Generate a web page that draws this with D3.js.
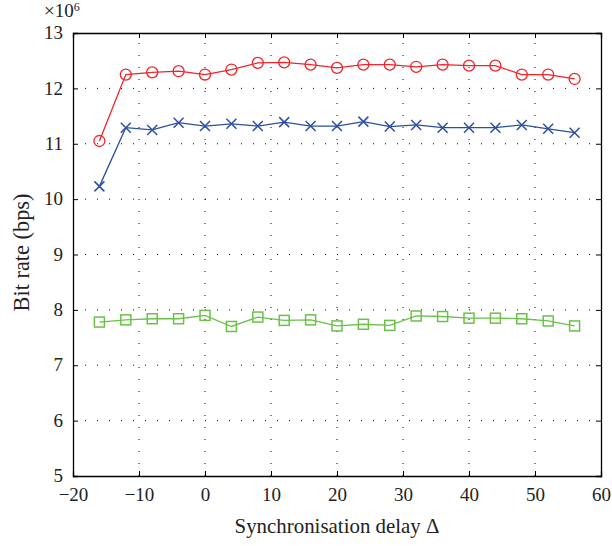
<!DOCTYPE html>
<html><head><meta charset="utf-8">
<script src="https://cdn.jsdelivr.net/npm/d3@7"></script>
<style>body{margin:0;background:#fff}svg{display:block}</style>
</head><body>
<svg id="c" width="612" height="546"></svg>
<script>
const delays = [-16,-12,-8,-4,0,4,8,12,16,20,24,28,32,36,40,44,48,52,56];
const redVals = [11.05,12.25,12.29,12.31,12.25,12.34,12.46,12.47,12.43,12.37,12.43,12.43,12.39,12.43,12.41,12.41,12.25,12.25,12.17];
const blueVals = [10.23,11.29,11.25,11.38,11.32,11.36,11.32,11.39,11.32,11.32,11.40,11.31,11.34,11.29,11.29,11.29,11.34,11.27,11.20];
const greenVals = [7.78,7.82,7.84,7.84,7.90,7.70,7.87,7.81,7.82,7.71,7.74,7.72,7.89,7.88,7.85,7.85,7.84,7.80,7.71];
const xTicks = [-20,-10,0,10,20,30,40,50,60];
const yTicks = [5,6,7,8,9,10,11,12,13];

const svg = d3.select("#c");
const L=73, R=601, T=33, B=476;
const x = d3.scaleLinear().domain([-20,60]).range([L,R]);
const y = d3.scaleLinear().domain([5,13]).range([B,T]);
const font = "Liberation Serif";
const txt = "#222";

const g = svg.append("g");
g.selectAll(".vg").data(xTicks.slice(1,-1)).enter().append("line")
 .attr("x1",d=>x(d)).attr("x2",d=>x(d)).attr("y1",B).attr("y2",T)
 .attr("stroke","#000").attr("stroke-width",1).attr("stroke-dasharray","1,11");
g.selectAll(".hg").data(yTicks.slice(1,-1)).enter().append("line")
 .attr("x1",L).attr("x2",R).attr("y1",d=>y(d)).attr("y2",d=>y(d))
 .attr("stroke","#000").attr("stroke-width",1).attr("stroke-dasharray","1,11");

const ax = svg.append("g");
const xa = ax.append("g").attr("transform",`translate(0,${B})`)
 .call(d3.axisBottom(x).tickValues(xTicks).tickSize(-5).tickPadding(12).tickFormat(d=>d<0?"\u2212"+(-d):d));
const xt = ax.append("g").attr("transform",`translate(0,${T})`)
 .call(d3.axisTop(x).tickValues(xTicks).tickSize(-5).tickFormat(""));
const ya = ax.append("g").attr("transform",`translate(${L},0)`)
 .call(d3.axisLeft(y).tickValues(yTicks).tickSize(-5).tickPadding(10));
const yr = ax.append("g").attr("transform",`translate(${R},0)`)
 .call(d3.axisRight(y).tickValues(yTicks).tickSize(-5).tickFormat(""));
[xa,xt,ya,yr].forEach(a=>{
  a.attr("font-family",font);
  a.selectAll("path").attr("stroke","#000").attr("stroke-width",1.3);
  a.selectAll("line").attr("stroke","#000").attr("stroke-width",1);
  a.selectAll("text").attr("font-family",font).attr("font-size",19).attr("fill",txt);
});
xa.selectAll("text").attr("dy","0.71em");
ya.selectAll("text").attr("dy","0.3em");

svg.append("text").attr("x",44).attr("y",17).attr("font-family",font).attr("font-size",19).attr("fill",txt)
 .text("\u00d710").append("tspan").attr("font-size",12).attr("dy",-6).text("6");

const xt1 = svg.append("text").attr("x",(L+R)/2).attr("y",533).attr("text-anchor","middle")
 .attr("font-family",font).attr("font-size",20).attr("fill",txt).text("Synchronisation delay \u0394");
const yt1 = svg.append("text").attr("transform",`translate(29,${(T+B)/2-2}) rotate(-90)`).attr("text-anchor","middle")
 .attr("font-family",font).attr("font-size",20).attr("fill",txt).text("Bit rate (bps)");
function fit(sel,w){ const l=sel.node().getComputedTextLength(); sel.attr("font-size",20*w/l); }
fit(xt1,205); fit(yt1,118);

const line = d3.line().x(d=>x(d[0])).y(d=>y(d[1]));
function series(vals,color,marker){
  const data = delays.map((d,i)=>[d,vals[i]]);
  svg.append("path").datum(data).attr("d",line).attr("fill","none").attr("stroke",color).attr("stroke-width",1.3);
  const m = svg.append("g");
  data.forEach(p=>{
    const cx=x(p[0]), cy=y(p[1]);
    if(marker==="o") m.append("circle").attr("cx",cx).attr("cy",cy).attr("r",5.5).attr("fill","none").attr("stroke",color).attr("stroke-width",1.3);
    else if(marker==="x"){ const s=5;
      m.append("path").attr("d",`M${cx-s},${cy-s}L${cx+s},${cy+s}M${cx-s},${cy+s}L${cx+s},${cy-s}`).attr("stroke",color).attr("stroke-width",1.5);
    } else { const s=5;
      m.append("rect").attr("x",cx-s).attr("y",cy-s).attr("width",2*s).attr("height",2*s).attr("fill","none").attr("stroke",color).attr("stroke-width",1.5);
    }
  });
}
series(redVals,"#f0242a","o");
series(blueVals,"#2d4fa3","x");
series(greenVals,"#6cc04a","s");
</script>
</body></html>
